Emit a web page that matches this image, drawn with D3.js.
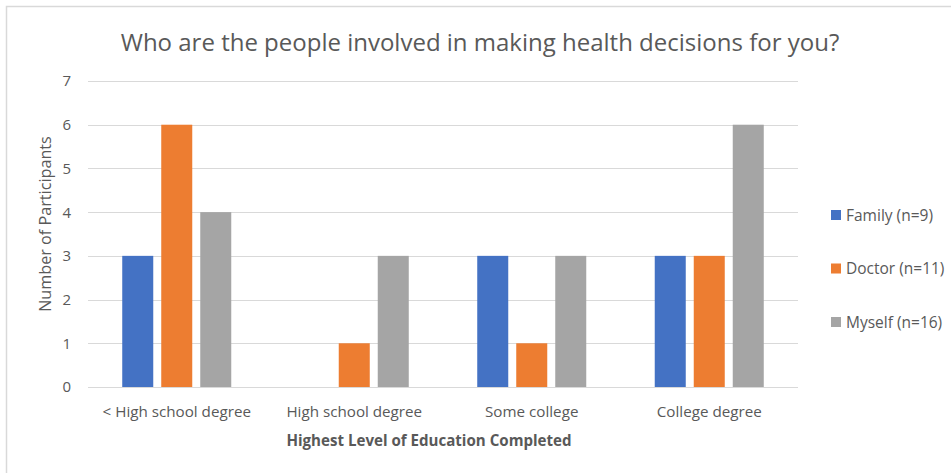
<!DOCTYPE html>
<html><head><meta charset="utf-8">
<script src="https://cdn.jsdelivr.net/npm/d3@7"></script>
<style>body{margin:0;background:#fff;} svg{display:block;}</style>
</head><body>
<script>
const categories = ["< High school degree", "High school degree", "Some college", "College degree"];
const seriesNames = ["Family (n=9)", "Doctor (n=11)", "Myself (n=16)"];
const family = [3, 0, 3, 3];
const doctor = [6, 1, 1, 3];
const myself = [4, 3, 3, 6];
const yTicks = [0, 1, 2, 3, 4, 5, 6, 7];
const colors = ["#4472C4", "#ED7D31", "#A5A5A5"];
const seriesValues = [family, doctor, myself];

const W = 951, H = 473;
const font = "'Open Sans', 'Liberation Sans', sans-serif";
const svg = d3.select("body").append("svg").attr("width", W).attr("height", H);
svg.append("rect").attr("x", 6.5).attr("y", 6.5).attr("width", W).attr("height", H)
  .attr("fill", "#fff").attr("stroke", "#d9d9d9").attr("stroke-width", 1.5);

const x0 = d3.scaleBand().domain(categories).range([88, 798]).paddingInner(0).paddingOuter(0);
const x1 = d3.scaleBand().domain(d3.range(3)).range([0, x0.bandwidth()]).paddingInner(0.205).paddingOuter(0.878);
const y = d3.scaleLinear().domain([0, 7]).range([387, 81]);

// gridlines
svg.append("g").selectAll("line").data(yTicks).join("line")
  .attr("x1", 88).attr("x2", 798)
  .attr("y1", d => Math.round(y(d)) + 0.5).attr("y2", d => Math.round(y(d)) + 0.5)
  .attr("stroke", "#d9d9d9").attr("stroke-width", 1);

// y tick labels
svg.append("g").selectAll("text").data(yTicks).join("text")
  .attr("x", 71).attr("y", d => y(d)).attr("dy", "0.36em")
  .attr("text-anchor", "end").attr("font-family", font).attr("font-size", 15)
  .attr("fill", "#595959").text(d => d);

// bars
const groups = svg.append("g").selectAll("g").data(categories).join("g")
  .attr("transform", c => `translate(${x0(c)},0)`);
groups.selectAll("rect").data((c, i) => seriesValues.map((s, j) => ({j, v: s[i]})))
  .join("rect")
  .attr("x", d => x1(d.j)).attr("width", x1.bandwidth())
  .attr("y", d => y(d.v)).attr("height", d => y(0) - y(d.v))
  .attr("fill", d => colors[d.j]);

// category labels
svg.append("g").selectAll("text").data(categories).join("text")
  .attr("x", c => x0(c) + x0.bandwidth() / 2).attr("y", 417)
  .attr("text-anchor", "middle").attr("font-family", font).attr("font-size", 15.2)
  .attr("fill", "#595959").text(c => c);

// axis titles
svg.append("text").attr("x", 429).attr("y", 446).attr("text-anchor", "middle")
  .attr("font-family", font).attr("font-size", 15.1).attr("font-weight", "bold")
  .attr("fill", "#595959").text("Highest Level of Education Completed");
svg.append("text").attr("transform", "translate(51,224) rotate(-90)").attr("text-anchor", "middle")
  .attr("font-family", font).attr("font-size", 16.2)
  .attr("fill", "#595959").text("Number of Participants");

// title
svg.append("text").attr("x", 480).attr("y", 51).attr("text-anchor", "middle")
  .attr("font-family", font).attr("font-size", 24)
  .attr("fill", "#595959").text("Who are the people involved in making health decisions for you?");

// legend
const leg = svg.append("g").selectAll("g").data(seriesNames).join("g")
  .attr("transform", (d, i) => `translate(831,${215 + i * 53.5})`);
leg.append("rect").attr("x", 0).attr("y", -5).attr("width", 10).attr("height", 10)
  .attr("fill", (d, i) => colors[i]);
leg.append("text").attr("x", 15).attr("y", 0).attr("dy", "0.36em")
  .attr("font-family", font).attr("font-size", 15.5).attr("fill", "#595959").text(d => d);
</script>
</body></html>
